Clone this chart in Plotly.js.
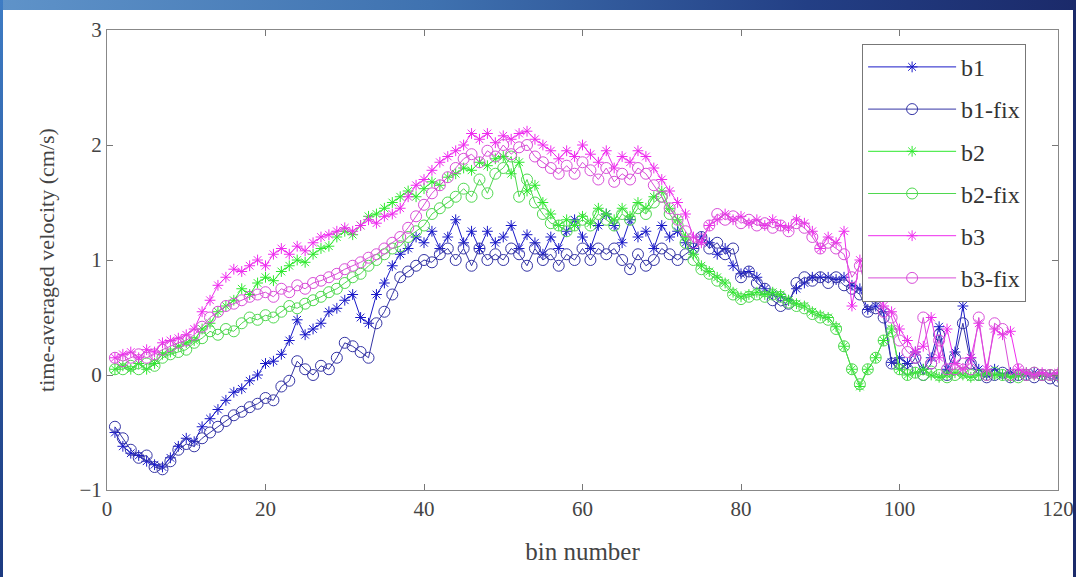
<!DOCTYPE html>
<html>
<head>
<meta charset="utf-8">
<script src="https://cdn.plot.ly/plotly-3.0.1.min.js"></script>
<style>
html,body{margin:0;padding:0;background:#fff;width:1076px;height:577px;overflow:hidden;}
#chart{position:absolute;left:0;top:0;width:1076px;height:577px;}
#topband{position:absolute;left:0;top:0;width:1076px;height:10px;background:linear-gradient(90deg,#5f93c9 0%,#3f72b0 40%,#233f85 75%,#1b2a6a 100%);z-index:5;}
#lband{position:absolute;left:0;top:0;width:3px;height:577px;background:linear-gradient(180deg,#3e7cc4,#1c3a80);z-index:5;}
#rband{position:absolute;right:0;top:0;width:3px;height:577px;background:#1b2a6a;z-index:5;}
</style>
</head>
<body>
<div id="chart"></div>
<div id="topband"></div><div id="lband"></div><div id="rband"></div>
<script>
const bins = Array.from({length:120},(_,i)=>i+1);

const b1 = [-0.50,-0.62,-0.68,-0.70,-0.75,-0.78,-0.80,-0.72,-0.62,-0.55,
-0.58,-0.45,-0.38,-0.30,-0.22,-0.15,-0.12,-0.05,0.00,0.10,
0.12,0.18,0.30,0.48,0.35,0.40,0.45,0.55,0.58,0.65,
0.70,0.50,0.45,0.70,0.80,0.95,1.05,1.10,1.20,1.15,
1.25,1.10,1.20,1.35,1.15,1.25,1.10,1.25,1.15,1.20,
1.30,1.10,1.22,1.15,1.05,1.20,1.10,1.25,1.35,1.20,
1.10,1.30,1.40,1.30,1.15,1.35,1.20,1.25,1.10,1.30,
1.20,1.25,1.15,1.10,1.20,1.15,1.05,1.10,0.95,0.88,
0.90,0.85,0.75,0.70,0.68,0.65,0.75,0.80,0.85,0.85,
0.85,0.83,0.85,0.78,0.75,0.57,0.60,0.55,0.11,0.15,
0.10,0.20,0.05,0.15,0.42,0.05,0.20,0.60,0.15,0.05,
0.00,0.05,0.00,0.02,0.00,0.00,0.02,0.00,0.00,-0.02];

const b1fix = [-0.45,-0.55,-0.65,-0.72,-0.70,-0.80,-0.82,-0.75,-0.65,-0.60,
-0.62,-0.55,-0.50,-0.45,-0.40,-0.35,-0.32,-0.28,-0.25,-0.20,
-0.22,-0.10,-0.05,0.12,0.05,0.00,0.08,0.05,0.15,0.28,
0.25,0.20,0.15,0.45,0.55,0.70,0.85,0.90,0.95,1.00,
0.98,1.05,1.10,1.00,1.10,0.95,1.10,1.00,1.05,1.00,
1.10,1.05,0.95,1.10,1.00,1.05,0.95,1.05,1.00,1.10,
1.00,1.10,1.05,1.10,1.00,0.92,1.05,0.95,1.00,1.10,
1.05,1.00,1.05,1.10,1.20,1.10,1.15,1.05,1.10,0.85,
0.90,0.80,0.75,0.65,0.60,0.62,0.80,0.85,0.82,0.85,
0.80,0.85,0.78,0.75,0.70,0.55,0.58,0.50,0.10,0.10,
0.05,0.15,0.00,0.10,0.35,0.00,0.15,0.45,0.10,0.00,
-0.02,0.00,0.02,-0.02,0.00,0.00,-0.02,0.00,-0.03,-0.05];

const b2 = [0.05,0.08,0.05,0.10,0.05,0.10,0.18,0.20,0.25,0.28,
0.30,0.40,0.45,0.55,0.60,0.65,0.75,0.70,0.80,0.85,
0.82,0.90,0.95,1.00,0.98,1.05,1.10,1.12,1.20,1.25,
1.22,1.30,1.38,1.40,1.45,1.50,1.55,1.60,1.55,1.62,
1.68,1.65,1.72,1.75,1.80,1.78,1.85,1.82,1.88,1.90,
1.75,1.85,1.60,1.65,1.50,1.40,1.30,1.35,1.30,1.38,
1.32,1.45,1.40,1.35,1.45,1.38,1.50,1.45,1.55,1.60,
1.45,1.35,1.20,1.05,0.95,0.90,0.85,0.80,0.72,0.68,
0.70,0.72,0.70,0.72,0.70,0.65,0.62,0.60,0.55,0.52,
0.50,0.42,0.25,0.05,-0.10,0.05,0.15,0.30,0.40,0.05,
0.00,0.02,0.05,0.00,-0.02,0.00,0.02,0.00,-0.02,0.00,
0.02,0.00,0.00,-0.02,0.00,0.02,0.00,0.00,0.00,0.00];

const b2fix = [0.05,0.05,0.08,0.05,0.10,0.08,0.15,0.18,0.20,0.22,
0.28,0.32,0.38,0.35,0.40,0.38,0.45,0.50,0.48,0.52,
0.50,0.55,0.60,0.58,0.62,0.65,0.68,0.72,0.75,0.80,
0.85,0.88,0.95,1.00,1.05,1.10,1.12,1.20,1.25,1.30,
1.40,1.45,1.50,1.55,1.62,1.55,1.70,1.58,1.75,1.80,
1.90,1.55,1.70,1.50,1.40,1.32,1.30,1.25,1.30,1.35,
1.30,1.40,1.35,1.30,1.40,1.35,1.45,1.40,1.50,1.55,
1.40,1.30,1.15,1.00,0.92,0.88,0.82,0.78,0.70,0.66,
0.68,0.70,0.68,0.70,0.68,0.63,0.60,0.58,0.53,0.50,
0.48,0.40,0.25,0.05,-0.08,0.05,0.15,0.30,0.38,0.05,
0.00,0.02,0.00,0.03,0.00,-0.02,0.00,0.02,0.00,0.00,
0.00,0.02,0.00,0.00,-0.02,0.00,0.02,0.00,0.00,0.00];

const b3 = [0.15,0.18,0.20,0.15,0.22,0.20,0.28,0.30,0.32,0.35,
0.40,0.55,0.65,0.78,0.85,0.92,0.90,0.95,1.00,0.95,
1.05,1.10,1.05,1.12,1.08,1.15,1.20,1.22,1.25,1.28,
1.25,1.30,1.35,1.32,1.38,1.40,1.45,1.55,1.65,1.70,
1.78,1.85,1.90,1.95,2.00,2.10,2.05,2.10,2.02,2.08,
2.05,2.10,2.12,2.05,2.00,1.95,1.88,1.95,1.90,2.00,
1.92,1.85,1.95,1.80,1.90,1.85,1.95,1.90,1.80,1.70,
1.60,1.50,1.40,1.20,1.15,1.30,1.35,1.40,1.35,1.38,
1.32,1.35,1.30,1.35,1.30,1.28,1.35,1.32,1.25,1.10,
1.20,1.15,1.25,0.60,1.00,0.75,0.80,0.60,0.55,0.40,
0.30,0.20,0.25,0.50,0.15,0.40,0.10,0.05,0.15,0.45,
0.05,0.40,0.35,0.38,0.05,0.02,0.00,0.02,0.00,0.02];

const b3fix = [0.15,0.12,0.15,0.18,0.15,0.18,0.22,0.25,0.28,0.30,
0.35,0.42,0.50,0.55,0.60,0.62,0.65,0.68,0.70,0.72,
0.68,0.75,0.72,0.78,0.75,0.80,0.82,0.85,0.88,0.92,
0.95,0.98,1.02,1.05,1.10,1.15,1.20,1.28,1.38,1.48,
1.58,1.65,1.72,1.80,1.88,1.92,1.85,1.95,1.90,2.00,
1.92,1.98,2.00,1.90,1.85,1.80,1.75,1.82,1.75,1.85,
1.78,1.70,1.80,1.68,1.75,1.70,1.80,1.75,1.65,1.55,
1.45,1.35,1.25,1.15,1.18,1.30,1.40,1.35,1.38,1.32,
1.35,1.30,1.32,1.28,1.30,1.25,1.32,1.28,1.20,1.10,
1.15,1.10,1.05,0.85,0.95,0.70,0.75,0.55,0.50,0.30,
0.20,0.15,0.50,0.10,0.30,0.05,0.05,0.10,0.05,0.50,
0.00,0.45,0.40,0.00,0.05,0.00,0.02,0.00,0.00,0.00];

const names = ['b1','b1-fix','b2','b2-fix','b3','b3-fix'];
const series = [b1,b1fix,b2,b2fix,b3,b3fix];
const colors = ['#1a1ac8','#3535a5','#2ee82e','#4fd84f','#ee2cee','#d84ed8'];
const symbols = ['asterisk-open','circle-open','asterisk-open','circle-open','asterisk-open','circle-open'];
const sizes = [9,11,9,11,9,11];

const traces = series.map((ys,i)=>({
  x: bins, y: ys, name: names[i], type:'scatter', mode:'lines+markers',
  legendgroup: names[i],
  line:{color:colors[i], width:1},
  marker:{symbol:symbols[i], size:sizes[i], color:colors[i], line:{color:colors[i], width:1}}
}));

const serif = '"Liberation Serif","DejaVu Serif",serif';
const layout = {
  width:1076, height:577,
  margin:{l:107, r:18, t:30, b:87},
  paper_bgcolor:'#fff', plot_bgcolor:'#fff',
  showlegend:true,
  font:{family:serif, color:'#333', size:20},
  xaxis:{range:[0,120], dtick:20, tick0:0, ticks:'inside', ticklen:6, tickcolor:'#777',
    showline:true, mirror:'ticks', linecolor:'#888', linewidth:1, showgrid:false, zeroline:false,
    tickfont:{family:serif, size:21, color:'#444'},
    title:{text:'bin number', font:{family:serif, size:25, color:'#444'}, standoff:22}},
  yaxis:{range:[-1,3], dtick:1, tick0:-1, ticks:'inside', ticklen:6, tickcolor:'#777',
    showline:true, mirror:'ticks', linecolor:'#888', linewidth:1, showgrid:false, zeroline:false,
    tickfont:{family:serif, size:21, color:'#444'},
    title:{text:'time-averaged velocity (cm/s)', font:{family:serif, size:22, color:'#444'}, standoff:18}},
  legend:{x:0.794, y:0.97, xanchor:'left', yanchor:'top', bgcolor:'#fff',
    bordercolor:'#777', borderwidth:1, font:{family:serif, size:24, color:'#333'},
    traceorder:'grouped', tracegroupgap:8, itemwidth:88}
};
Plotly.newPlot('chart', traces, layout, {displayModeBar:false, staticPlot:true});
</script>
</body>
</html>
